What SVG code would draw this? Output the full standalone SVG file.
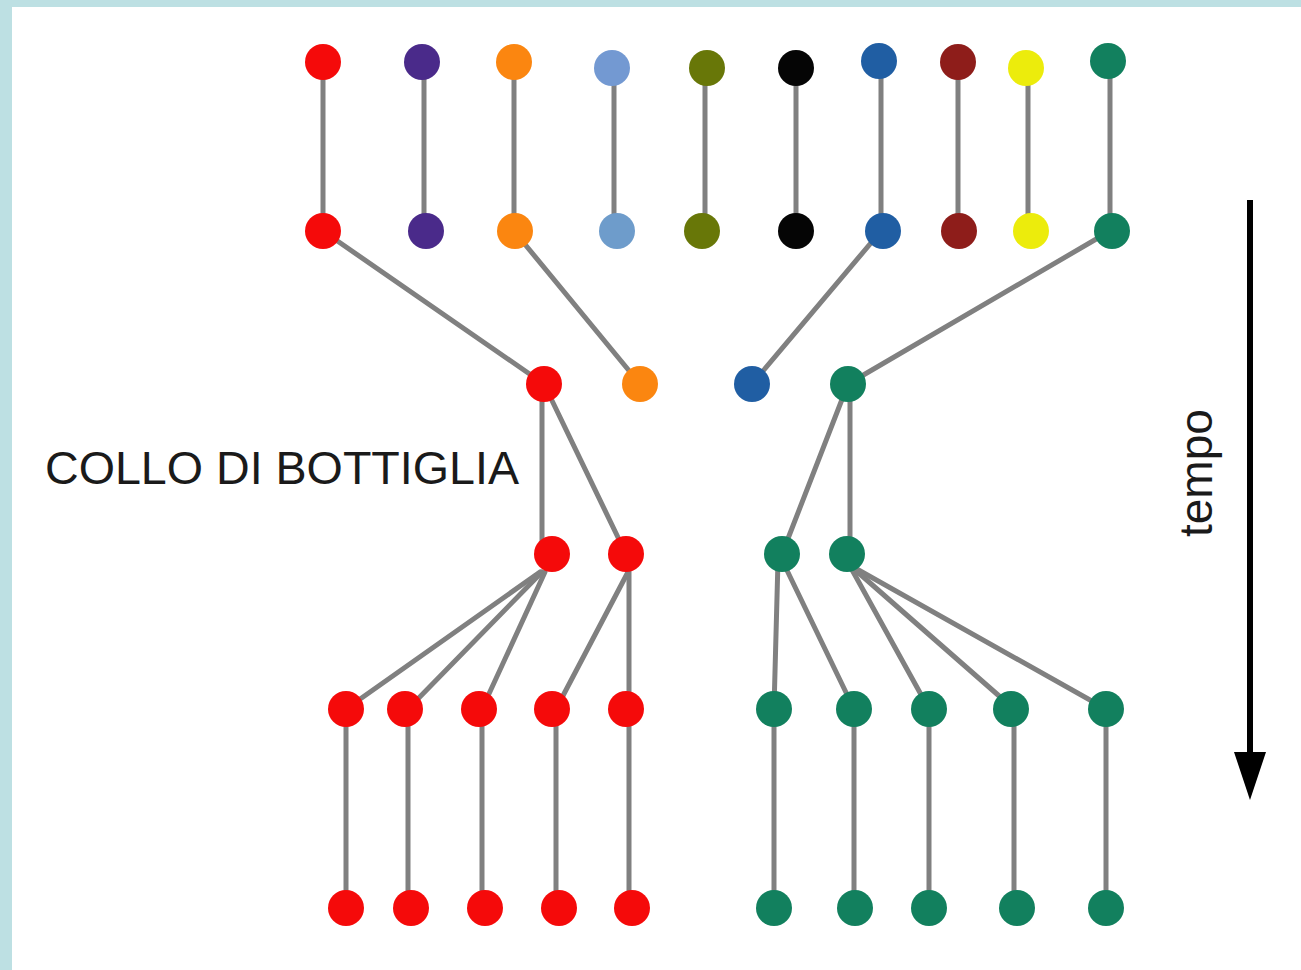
<svg xmlns="http://www.w3.org/2000/svg" width="1301" height="970" viewBox="0 0 1301 970">
<defs>
<style>
.e{stroke:#808080;stroke-width:5;fill:none;stroke-linecap:round}
.n{stroke:none}
.r{fill:#f50a0a}.pu{fill:#4a2a8a}.o{fill:#fb8610}.lb{fill:#7399d2}.ol{fill:#687708}.bk{fill:#050505}.bl{fill:#205ea3}.dr{fill:#8e1d1a}.y{fill:#ecec0c}.g{fill:#12805e}
.t{font-family:"Liberation Sans",Arial,sans-serif;fill:#1a1a1a}
</style>
</defs>
<rect x="0" y="0" width="1301" height="970" fill="#ffffff"/>
<rect x="0" y="0" width="1301" height="7" fill="#bde0e3"/>
<rect x="0" y="0" width="12" height="970" fill="#bde0e3"/>
<g id="connectors">
<line class="e" x1="323" y1="62" x2="323" y2="231"/>
<line class="e" x1="424" y1="62" x2="424" y2="231"/>
<line class="e" x1="514" y1="62" x2="514" y2="231"/>
<line class="e" x1="614" y1="68" x2="614" y2="231"/>
<line class="e" x1="705" y1="68" x2="705" y2="231"/>
<line class="e" x1="796" y1="68" x2="796" y2="231"/>
<line class="e" x1="881" y1="62" x2="881" y2="231"/>
<line class="e" x1="958" y1="62" x2="958" y2="231"/>
<line class="e" x1="1028" y1="68" x2="1028" y2="231"/>
<line class="e" x1="1110" y1="62" x2="1110" y2="231"/>
<line class="e" x1="323" y1="231" x2="544" y2="384"/>
<line class="e" x1="514" y1="231" x2="640" y2="384"/>
<line class="e" x1="881" y1="231" x2="752" y2="384"/>
<line class="e" x1="1110" y1="231" x2="848" y2="384"/>
<line class="e" x1="542" y1="384" x2="542" y2="554"/>
<line class="e" x1="544" y1="384" x2="626" y2="554"/>
<line class="e" x1="848" y1="384" x2="782" y2="554"/>
<line class="e" x1="850" y1="384" x2="850" y2="554"/>
<line class="e" x1="540" y1="572" x2="346" y2="709"/>
<line class="e" x1="542" y1="572" x2="408" y2="709"/>
<line class="e" x1="545" y1="572" x2="482" y2="709"/>
<line class="e" x1="628" y1="572" x2="556" y2="709"/>
<line class="e" x1="629" y1="560" x2="629" y2="709"/>
<line class="e" x1="778" y1="560" x2="774" y2="709"/>
<line class="e" x1="782" y1="560" x2="854" y2="709"/>
<line class="e" x1="851" y1="568" x2="929" y2="709"/>
<line class="e" x1="853" y1="568" x2="1014" y2="709"/>
<line class="e" x1="855" y1="568" x2="1106" y2="709"/>
<line class="e" x1="346" y1="709" x2="346" y2="908"/>
<line class="e" x1="408" y1="709" x2="408" y2="908"/>
<line class="e" x1="482" y1="709" x2="482" y2="908"/>
<line class="e" x1="556" y1="709" x2="556" y2="908"/>
<line class="e" x1="629" y1="709" x2="629" y2="908"/>
<line class="e" x1="774" y1="709" x2="774" y2="908"/>
<line class="e" x1="854" y1="709" x2="854" y2="908"/>
<line class="e" x1="929" y1="709" x2="929" y2="908"/>
<line class="e" x1="1014" y1="709" x2="1014" y2="908"/>
<line class="e" x1="1106" y1="709" x2="1106" y2="908"/>
</g>
<g id="n1-1"><circle class="n r" cx="323" cy="62" r="18"/></g>
<g id="n1-2"><circle class="n pu" cx="422" cy="62" r="18"/></g>
<g id="n1-3"><circle class="n o" cx="514" cy="62" r="18"/></g>
<g id="n1-4"><circle class="n lb" cx="612" cy="68" r="18"/></g>
<g id="n1-5"><circle class="n ol" cx="707" cy="68" r="18"/></g>
<g id="n1-6"><circle class="n bk" cx="796" cy="68" r="18"/></g>
<g id="n1-7"><circle class="n bl" cx="879" cy="61" r="18"/></g>
<g id="n1-8"><circle class="n dr" cx="958" cy="62" r="18"/></g>
<g id="n1-9"><circle class="n y" cx="1026" cy="68" r="18"/></g>
<g id="n1-10"><circle class="n g" cx="1108" cy="61" r="18"/></g>
<g id="n2-1"><circle class="n r" cx="323" cy="231" r="18"/></g>
<g id="n2-2"><circle class="n pu" cx="426" cy="231" r="18"/></g>
<g id="n2-3"><circle class="n o" cx="515" cy="231" r="18"/></g>
<g id="n2-4"><circle class="n lb" cx="617" cy="231" r="18" style="fill:#6e9ccb"/></g>
<g id="n2-5"><circle class="n ol" cx="702" cy="231" r="18"/></g>
<g id="n2-6"><circle class="n bk" cx="796" cy="231" r="18"/></g>
<g id="n2-7"><circle class="n bl" cx="883" cy="231" r="18"/></g>
<g id="n2-8"><circle class="n dr" cx="959" cy="231" r="18"/></g>
<g id="n2-9"><circle class="n y" cx="1031" cy="231" r="18"/></g>
<g id="n2-10"><circle class="n g" cx="1112" cy="231" r="18"/></g>
<g id="n3-1"><circle class="n r" cx="544" cy="384" r="18"/></g>
<g id="n3-2"><circle class="n o" cx="640" cy="384" r="18"/></g>
<g id="n3-3"><circle class="n bl" cx="752" cy="384" r="18"/></g>
<g id="n3-4"><circle class="n g" cx="848" cy="384" r="18"/></g>
<g id="n4-1"><circle class="n r" cx="552" cy="554" r="18"/></g>
<g id="n4-2"><circle class="n r" cx="626" cy="554" r="18"/></g>
<g id="n4-3"><circle class="n g" cx="782" cy="554" r="18"/></g>
<g id="n4-4"><circle class="n g" cx="847" cy="554" r="18"/></g>
<g id="n5-1"><circle class="n r" cx="346" cy="709" r="18"/></g>
<g id="n5-2"><circle class="n r" cx="405" cy="709" r="18"/></g>
<g id="n5-3"><circle class="n r" cx="479" cy="709" r="18"/></g>
<g id="n5-4"><circle class="n r" cx="552" cy="709" r="18"/></g>
<g id="n5-5"><circle class="n r" cx="626" cy="709" r="18"/></g>
<g id="n5-6"><circle class="n g" cx="774" cy="709" r="18"/></g>
<g id="n5-7"><circle class="n g" cx="854" cy="709" r="18"/></g>
<g id="n5-8"><circle class="n g" cx="929" cy="709" r="18"/></g>
<g id="n5-9"><circle class="n g" cx="1011" cy="709" r="18"/></g>
<g id="n5-10"><circle class="n g" cx="1106" cy="709" r="18"/></g>
<g id="n6-1"><circle class="n r" cx="346" cy="908" r="18"/></g>
<g id="n6-2"><circle class="n r" cx="411" cy="908" r="18"/></g>
<g id="n6-3"><circle class="n r" cx="485" cy="908" r="18"/></g>
<g id="n6-4"><circle class="n r" cx="559" cy="908" r="18"/></g>
<g id="n6-5"><circle class="n r" cx="632" cy="908" r="18"/></g>
<g id="n6-6"><circle class="n g" cx="774" cy="908" r="18"/></g>
<g id="n6-7"><circle class="n g" cx="855" cy="908" r="18"/></g>
<g id="n6-8"><circle class="n g" cx="929" cy="908" r="18"/></g>
<g id="n6-9"><circle class="n g" cx="1017" cy="908" r="18"/></g>
<g id="n6-10"><circle class="n g" cx="1106" cy="908" r="18"/></g>
<g id="label-bottleneck"><text class="t" x="45" y="484" font-size="47" textLength="474" lengthAdjust="spacingAndGlyphs">COLLO DI BOTTIGLIA</text></g>
<g id="time-axis">
<line x1="1250" y1="200" x2="1250" y2="760" stroke="#000" stroke-width="6"/>
<polygon points="1234,752 1266,752 1250,800" fill="#000"/>
<text class="t" font-size="46" transform="translate(1212,537) rotate(-90)">tempo</text>
</g>
</svg>
